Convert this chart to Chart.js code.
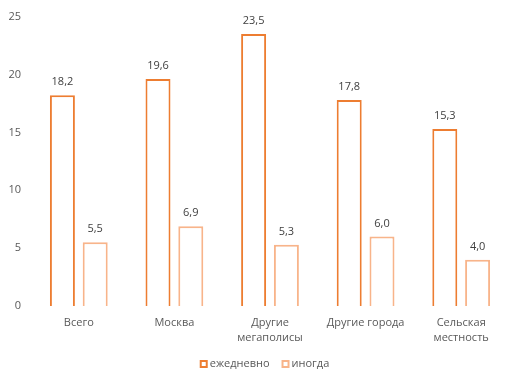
<!DOCTYPE html>
<html>
<head>
<meta charset="utf-8">
<script src="https://cdn.jsdelivr.net/npm/chart.js@4"></script>
<style>
html,body{margin:0;padding:0;background:#fff;}
#c{display:block;}
</style>
</head>
<body>
<canvas id="c" width="529" height="383"></canvas>
<script>
const categories = [["Всего"], ["Москва"], ["Другие", "мегаполисы"], ["Другие города"], ["Сельская", "местность"]];
const seriesNames = ["ежедневно", "иногда"];
const daily = [18.2, 19.6, 23.5, 17.8, 15.3];
const sometimes = [5.5, 6.9, 5.3, 6.0, 4.0];
const yTicks = [0, 5, 10, 15, 20, 25];
const seriesColors = ['#ED7D31', '#F8B48A'];

const FONT = "'Open Sans', 'Noto Sans', sans-serif";

const labelPlugin = {
  id: 'valueLabels',
  afterDatasetsDraw(chart) {
    const ctx = chart.ctx;
    ctx.save();
    ctx.font = "11px " + FONT;
    ctx.fillStyle = "#404040";
    ctx.textAlign = "center";
    ctx.textBaseline = "middle";
    chart.data.datasets.forEach((ds, i) => {
      const meta = chart.getDatasetMeta(i);
      meta.data.forEach((bar, j) => {
        const v = ds.data[j];
        ctx.fillText(v.toFixed(1).replace('.', ','), bar.x, bar.y - 13);
      });
    });
    ctx.restore();
  }
};

const legendPlugin = {
  id: 'customLegend',
  afterDraw(chart) {
    const ctx = chart.ctx;
    ctx.save();
    ctx.font = "11px " + FONT;
    ctx.textBaseline = "middle";
    ctx.textAlign = "left";
    const cy = 364;
    const box = 8, gapText = 2, gapItem = 12;
    const items = chart.data.datasets.map(d => ({ label: d.label, color: d.borderColor, w: ctx.measureText(d.label).width }));
    let total = 0;
    items.forEach((it, i) => { total += box + gapText + it.w + (i < items.length - 1 ? gapItem : 0); });
    let x = chart.width / 2 - total / 2;
    items.forEach(it => {
      ctx.fillStyle = '#ffffff';
      ctx.fillRect(x, cy - box / 2, box, box);
      ctx.strokeStyle = it.color;
      ctx.lineWidth = 2;
      ctx.strokeRect(x + 1, cy - box / 2 + 1, box - 2, box - 2);
      ctx.fillStyle = '#595959';
      ctx.fillText(it.label, x + box + gapText, cy);
      x += box + gapText + it.w + gapItem;
    });
    ctx.restore();
  }
};

new Chart(document.getElementById('c'), {
  type: 'bar',
  data: {
    labels: categories,
    datasets: [
      { label: seriesNames[0], data: daily, backgroundColor: '#ffffff', borderColor: seriesColors[0], borderWidth: 2 },
      { label: seriesNames[1], data: sometimes, backgroundColor: '#ffffff', borderColor: seriesColors[1], borderWidth: 2 }
    ]
  },
  options: {
    responsive: false,
    animation: false,
    devicePixelRatio: 1,
    layout: { padding: { left: 0, right: 20, top: 9, bottom: 30 } },
    datasets: { bar: { categoryPercentage: 0.686, barPercentage: 0.762 } },
    scales: {
      x: {
        afterFit(axis) { axis.height = 47; },
        grid: { display: false, drawTicks: false },
        border: { display: false },
        ticks: { color: '#595959', font: { family: FONT, size: 11, lineHeight: 1.36 }, padding: 9, maxRotation: 0, autoSkip: false }
      },
      y: {
        min: 0, max: 25,
        afterBuildTicks(axis) { axis.ticks = yTicks.map(v => ({ value: v })); },
        afterFit(axis) { axis.width = 31; },
        grid: { display: false, drawTicks: false },
        border: { display: false },
        ticks: { color: '#595959', font: { family: FONT, size: 11 }, padding: 10 }
      }
    },
    plugins: {
      legend: { display: false },
      tooltip: { enabled: false }
    }
  },
  plugins: [labelPlugin, legendPlugin]
});
</script>
</body>
</html>
